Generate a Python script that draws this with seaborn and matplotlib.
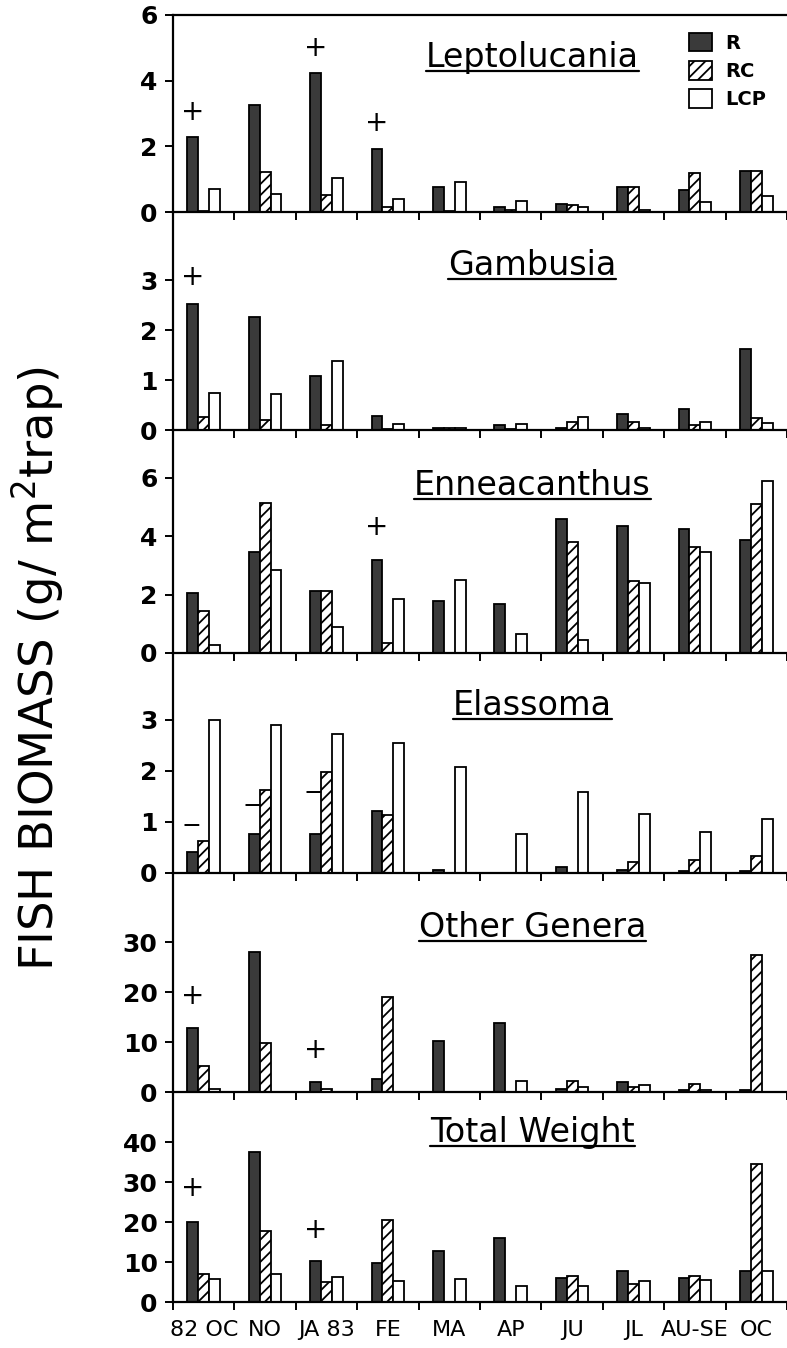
import numpy as np
import pandas as pd
import matplotlib
matplotlib.use("Agg")
import matplotlib.pyplot as plt
import seaborn as sns
from matplotlib.patches import Patch
from matplotlib.lines import Line2D

####### DATA #######
months = ["82 OC", "NO", "JA 83", "FE", "MA", "AP", "JU", "JL", "AU-SE", "OC"]
sites = ["R", "RC", "LCP"]

lepto_r = [2.29, 3.27, 4.24, 1.91, 0.76, 0.15, 0.24, 0.75, 0.68, 1.25]
lepto_rc = [0.02, 1.21, 0.53, 0.15, 0.02, 0.05, 0.22, 0.75, 1.20, 1.25]
lepto_lcp = [0.70, 0.55, 1.05, 0.39, 0.91, 0.33, 0.15, 0.05, 0.30, 0.50]
lepto_plus = [(0, 3.05), (2, 5.0), (3, 2.7)]

gamb_r = [2.52, 2.27, 1.08, 0.28, 0.05, 0.10, 0.05, 0.32, 0.42, 1.63]
gamb_rc = [0.27, 0.21, 0.10, 0.02, 0.04, 0.02, 0.17, 0.17, 0.10, 0.25]
gamb_lcp = [0.75, 0.73, 1.38, 0.12, 0.04, 0.12, 0.27, 0.04, 0.16, 0.15]
gamb_plus = [(0, 3.07)]

ennea_r = [2.05, 3.46, 2.11, 3.20, 1.78, 1.69, 4.60, 4.34, 4.24, 3.86]
ennea_rc = [1.43, 5.15, 2.11, 0.35, 0.0, 0.0, 3.80, 2.46, 3.62, 5.10]
ennea_lcp = [0.29, 2.83, 0.88, 1.86, 2.49, 0.64, 0.46, 2.39, 3.46, 5.89]
ennea_plus = [(3, 4.32)]

elass_r = [0.42, 0.77, 0.76, 1.22, 0.05, 0.0, 0.12, 0.05, 0.04, 0.04]
elass_rc = [0.63, 1.63, 1.98, 1.13, 0.0, 0.0, 0.0, 0.21, 0.25, 0.33]
elass_lcp = [3.00, 2.90, 2.73, 2.55, 2.08, 0.77, 1.58, 1.16, 0.80, 1.05]
elass_minus = [(0, 0.92), (1, 1.31), (2, 1.57)]

other_r = [12.9, 28.1, 2.1, 2.7, 10.3, 13.8, 0.6, 2.1, 0.5, 0.4]
other_rc = [5.3, 9.8, 0.6, 19.0, 0.0, 0.0, 2.2, 1.0, 1.6, 27.5]
other_lcp = [0.6, 0.0, 0.1, 0.0, 0.0, 2.3, 1.1, 1.5, 0.5, 0.0]
other_plus = [(0, 19.3), (2, 8.5)]

total_r = [19.9, 37.6, 10.2, 9.7, 12.8, 16.1, 5.9, 7.8, 6.0, 7.7]
total_rc = [7.0, 17.8, 5.0, 20.6, 0.0, 0.0, 6.5, 4.4, 6.5, 34.4]
total_lcp = [5.7, 7.0, 6.3, 5.2, 5.7, 4.0, 4.0, 5.2, 5.4, 7.7]
total_plus = [(0, 28.6), (2, 18.1)]

panels = [
    ("Leptolucania", lepto_r, lepto_rc, lepto_lcp, 6.0, [0, 2, 4, 6], lepto_plus, []),
    ("Gambusia", gamb_r, gamb_rc, gamb_lcp, 4.36, [0, 1, 2, 3], gamb_plus, []),
    ("Enneacanthus", ennea_r, ennea_rc, ennea_lcp, 7.64, [0, 2, 4, 6], ennea_plus, []),
    ("Elassoma", elass_r, elass_rc, elass_lcp, 4.31, [0, 1, 2, 3], [], elass_minus),
    ("Other Genera", other_r, other_rc, other_lcp, 43.8, [0, 10, 20, 30], other_plus, []),
    ("Total Weight", total_r, total_rc, total_lcp, 52.5, [0, 10, 20, 30, 40], total_plus, []),
]
title_y = [0.736, 0.71, 0.708, 0.716, 0.71, 0.763]

####### STYLE #######
sns.set_style("ticks")
plt.rcParams["font.family"] = ["DejaVu Sans"]
plt.rcParams["hatch.linewidth"] = 1.3
for key in ["text.color", "axes.labelcolor", "xtick.color", "ytick.color", "axes.edgecolor"]:
    plt.rcParams[key] = "black"

dark = "#3a3a3a"
bar_w = 0.53

W, H = 787, 1348
fig = plt.figure(figsize=(W / 100, H / 100), dpi=100)
edges = [15, 212, 430, 653, 873, 1092, 1302]  # panel borders in pixels
left, width = 173 / W, 614 / W

axes = []
titles = []
for i, (name, r, rc, lcp, ymax, yticks, plus, minus) in enumerate(panels):
    top, bot = edges[i], edges[i + 1]
    ax = fig.add_axes([left, 1 - bot / H, width, (bot - top) / H])
    df = pd.DataFrame({
        "month": months * 3,
        "site": np.repeat(sites, len(months)),
        "value": r + rc + lcp,
    })
    sns.barplot(data=df, x="month", y="value", hue="site", order=months,
                hue_order=sites, width=bar_w, palette=[dark, "white", "white"],
                saturation=1, edgecolor="black", linewidth=1.3,
                errorbar=None, legend=False, ax=ax)
    for bar in ax.containers[1]:
        bar.set_hatch("///")

    # significance marks over the R bars
    dx = bar_w / 3
    for m, v in plus:
        ax.text(m - dx, v, "+", ha="center", va="center", fontsize=20)
    for m, v in minus:
        ax.text(m - dx - 0.03, v, "\u2212", ha="center", va="center", fontsize=17)

    ax.set_xlim(-0.5, 9.4)
    ax.set_ylim(0, ymax)
    ax.set_xticks(np.arange(-0.5, 9.6, 1.0))
    ax.set_xticklabels([])
    ax.set_yticks(yticks)
    ax.set_yticklabels([str(t) for t in yticks], fontsize=18, fontweight="bold")
    ax.set_xlabel("")
    ax.set_ylabel("")
    ax.tick_params(axis="both", which="major", direction="out", length=6,
                   width=1.4, color="black")
    ax.tick_params(axis="y", pad=5)
    ax.spines["right"].set_visible(False)
    ax.spines["top"].set_visible(i == 0)
    for s in ["left", "bottom", "top"]:
        ax.spines[s].set_linewidth(1.6)
    ax.patch.set_alpha(0)

    t = ax.text(0.585, title_y[i], name, transform=ax.transAxes, ha="center",
                va="baseline", fontsize=24)
    titles.append((ax, t, title_y[i]))
    axes.append(ax)

# month labels under the bottom panel
axb = axes[-1]
axb.set_xticks(np.arange(len(months)), minor=True)
axb.set_xticklabels(months, minor=True, fontsize=16)
axb.tick_params(axis="x", which="minor", length=0, pad=13)

# legend in the top panel
handles = [
    Patch(facecolor=dark, edgecolor="black", linewidth=1.3, label="R"),
    Patch(facecolor="white", edgecolor="black", linewidth=1.3, hatch="///", label="RC"),
    Patch(facecolor="white", edgecolor="black", linewidth=1.3, label="LCP"),
]
axes[0].legend(handles=handles, loc="upper left", bbox_to_anchor=(0.84, 0.91),
               frameon=False, borderpad=0, borderaxespad=0, handlelength=1.2,
               handleheight=1.1, labelspacing=0.42, handletextpad=0.7,
               prop={"size": 14, "weight": "bold"})

fig.text(38 / W, 1 - 669 / H, "FISH BIOMASS (g/ m$^2$trap)", rotation=90,
         ha="center", va="center", fontsize=33.5)

# underline the panel titles
fig.canvas.draw()
renderer = fig.canvas.get_renderer()
for ax, t, yb in titles:
    bb = t.get_window_extent(renderer)
    y_disp = ax.transAxes.transform((0, yb))[1] - 4
    x0, y0 = fig.transFigure.inverted().transform((bb.x0, y_disp))
    x1, _ = fig.transFigure.inverted().transform((bb.x1, y_disp))
    fig.add_artist(Line2D([x0, x1], [y0, y0], transform=fig.transFigure,
                          color="black", linewidth=1.6))

fig.savefig("out.png", dpi=100)
